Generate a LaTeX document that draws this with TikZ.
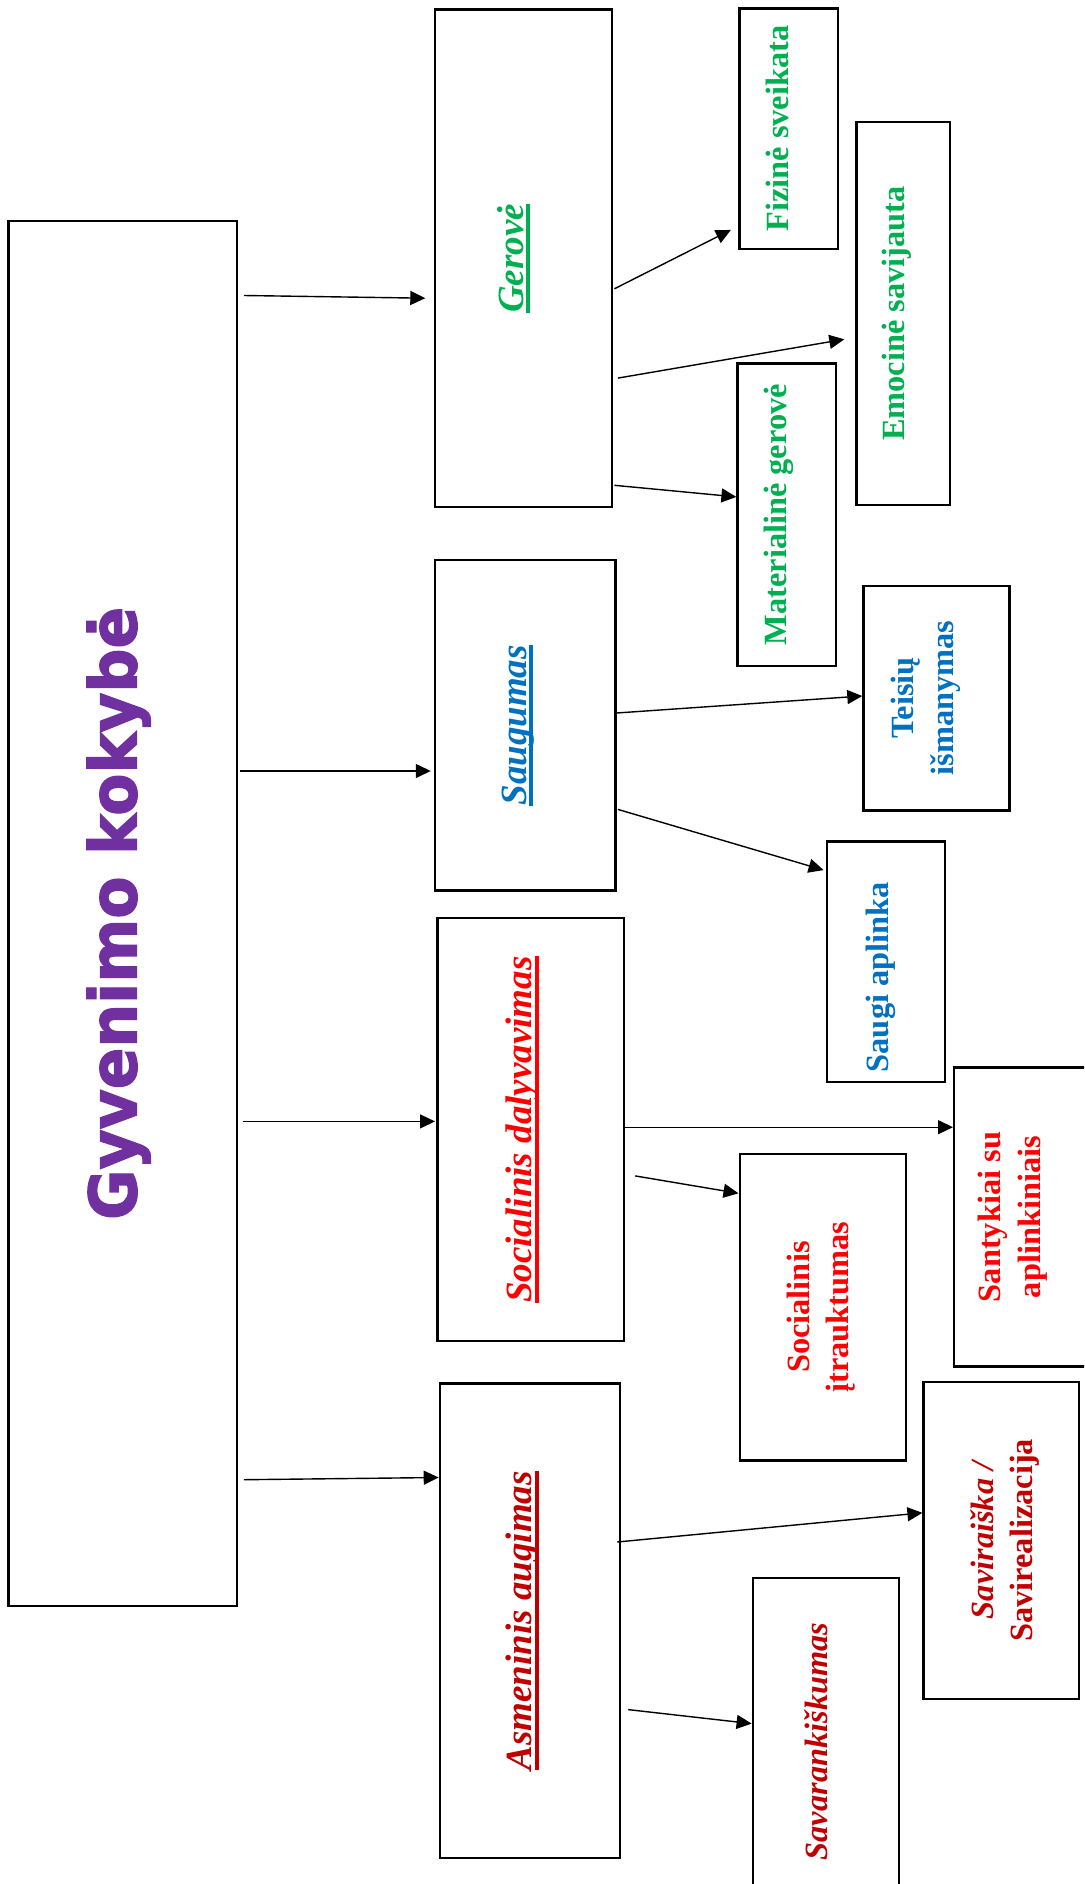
\documentclass[tikz,border=0pt]{standalone}
\usepackage{fontspec}
\setmainfont{Liberation Serif}
\newfontfamily\titlefont{DejaVu Sans}[BoldFeatures={FakeBold=2}]
\usepackage{graphicx}
\usetikzlibrary{arrows.meta,calc}
\definecolor{qpurple}{HTML}{7030A0}
\definecolor{qgreen}{HTML}{00B050}
\definecolor{qblue}{HTML}{0070C0}
\definecolor{qred}{HTML}{FF0000}
\definecolor{qdarkred}{HTML}{C00000}
\newsavebox\ulinebox
\newcommand{\lineunder}[1]{\sbox\ulinebox{#1}\rlap{\rule[-3.4pt]{\wd\ulinebox}{1.7pt}}\usebox\ulinebox}
\newcommand{\uptext}[2][11pt]{\rotatebox{90}{#2}\kern#1}

\begin{document}
\begin{tikzpicture}[x=0.5pt,y=-0.5pt]
  \tikzstyle{box}=[draw,line width=1.2pt,inner sep=0pt]
  \tikzstyle{head}=[font=\fontsize{18.5}{22}\selectfont\bfseries\itshape]
  \tikzstyle{leaf}=[font=\fontsize{16.2}{19.8}\selectfont\bfseries]
  \tikzstyle{e}=[-{Triangle[length=7.5pt,width=7pt]},line width=0.7pt]

  \useasboundingbox (0,0) rectangle (1084,1884);
  \clip (0,0) rectangle (1084,1884);

  \node[box,text=qpurple,minimum width=114.2pt,minimum height=692.3pt] (main) at (122.6,913.4)
    {\uptext[4pt]{\titlefont\bfseries\fontsize{32.7}{36}\selectfont\scalebox{0.94}[1]{Gyvenimo kokybė}}};

  \node[box,head,text=qgreen,minimum width=88.4pt,minimum height=248.8pt] (gerove) at (523.4,258.4)
    {\uptext[10pt]{\lineunder{Gerovė}}};
  \node[box,head,text=qblue,minimum width=90.2pt,minimum height=165.3pt] (saugumas) at (525.2,725.3)
    {\uptext[7.5pt]{\lineunder{Saugumas}}};
  \node[box,head,text=qred,minimum width=93.1pt,minimum height=211.6pt] (dalyvavimas) at (530.6,1129.6)
    {\uptext[7.5pt]{\lineunder{Socialinis dalyvavimas}}};
  \node[box,head,text=qdarkred,minimum width=90.1pt,minimum height=237.4pt] (augimas) at (530,1620.7)
    {\uptext[7pt]{\lineunder{Asmeninis augimas}}};

  \node[box,leaf,text=qgreen,minimum width=49.4pt,minimum height=120.2pt] (sveikata) at (788.7,128.6)
    {\uptext[11.5pt]{Fizinė sveikata}};
  \node[box,leaf,text=qgreen,minimum width=46.7pt,minimum height=191.3pt] (savijauta) at (903.2,313.6)
    {\uptext[6.5pt]{Emocinė savijauta}};
  \node[box,leaf,text=qgreen,minimum width=49.1pt,minimum height=151.3pt] (materialine) at (786.7,514.7)
    {\uptext[7.5pt]{Materialinė gerovė}};
  \node[box,leaf,text=qblue,minimum width=72.9pt,minimum height=112.3pt] (teises) at (936.4,698)
    {\uptext{\begin{tabular}{@{}c@{}}Teisių\\išmanymas\end{tabular}}};
  \node[box,leaf,text=qblue,minimum width=59.1pt,minimum height=120.1pt] (aplinka) at (885.9,961.6)
    {\uptext[5pt]{Saugi aplinka\kern15.6pt}};
  \node[box,leaf,text=qred,minimum width=67.9pt,minimum height=149.5pt] (santykiai) at (1022.1,1217)
    {\uptext[9.5pt]{\begin{tabular}{@{}c@{}}Santykiai su\\aplinkiniais\end{tabular}}};
  \node[box,leaf,text=qred,minimum width=83pt,minimum height=153.4pt] (itrauktumas) at (822.7,1307.1)
    {\uptext[1.5pt]{\begin{tabular}{@{}c@{}}Socialinis\\įtrauktumas\end{tabular}}};
  \node[box,leaf,text=qdarkred,minimum width=77.8pt,minimum height=158.4pt] (raiska) at (1001.4,1540.3)
    {\uptext[-3.5pt]{\begin{tabular}{@{}c@{}}\itshape Saviraiška /\\Savirealizacija\end{tabular}}};
  \node[box,leaf,text=qdarkred,minimum width=73pt,minimum height=163.6pt] (savarank) at (825.8,1741.4)
    {\uptext[10pt]{\itshape Savarankiškumas}};

  % from the title to the four areas
  \draw[e] ($(main.east|-0,295.5)+(6,0)$) -- ($(gerove.west|-0,298.2)+(-8.5,0)$);
  \draw[e] ($(main.east|-0,771)+(1.7,0)$) -- ($(saugumas.west|-0,771)+(-3,0)$);
  \draw[e] ($(main.east|-0,1121.4)+(4.5,0)$) -- ($(dalyvavimas.west|-0,1121.4)+(-1.3,0)$);
  \draw[e] ($(main.east|-0,1479.7)+(5.9,0)$) -- (augimas.west|-0,1477.5);

  % from the areas to their parts
  \draw[e] ($(gerove.east|-0,288.8)+(1.4,0)$) -- ($(sveikata.west|-0,229.9)+(-7.2,0)$);
  \draw[e] ($(gerove.east|-0,378.1)+(4.9,0)$) -- ($(savijauta.west|-0,339.3)+(-11,0)$);
  \draw[e] ($(gerove.east|-0,485.3)+(1.4,0)$) -- (materialine.west|-0,496.9);
  \draw[e] (saugumas.east|-0,713) -- (teises.west|-0,696);
  \draw[e] ($(saugumas.east|-0,809.4)+(1.3,0)$) -- ($(aplinka.west|-0,870.1)+(-2,0)$);
  \draw[e] ($(dalyvavimas.east|-0,1127.2)+(-2.2,0)$) -- (santykiai.west|-0,1127.2);
  \draw[e] ($(dalyvavimas.east|-0,1175.9)+(10.3,0)$) -- (itrauktumas.west|-0,1193.3);
  \draw[e] ($(augimas.east|-0,1542)+(-4.1,0)$) -- (raiska.west|-0,1512.8);
  \draw[e] ($(augimas.east|-0,1709.6)+(6.9,0)$) -- (savarank.west|-0,1723.6);
\end{tikzpicture}
\end{document}
